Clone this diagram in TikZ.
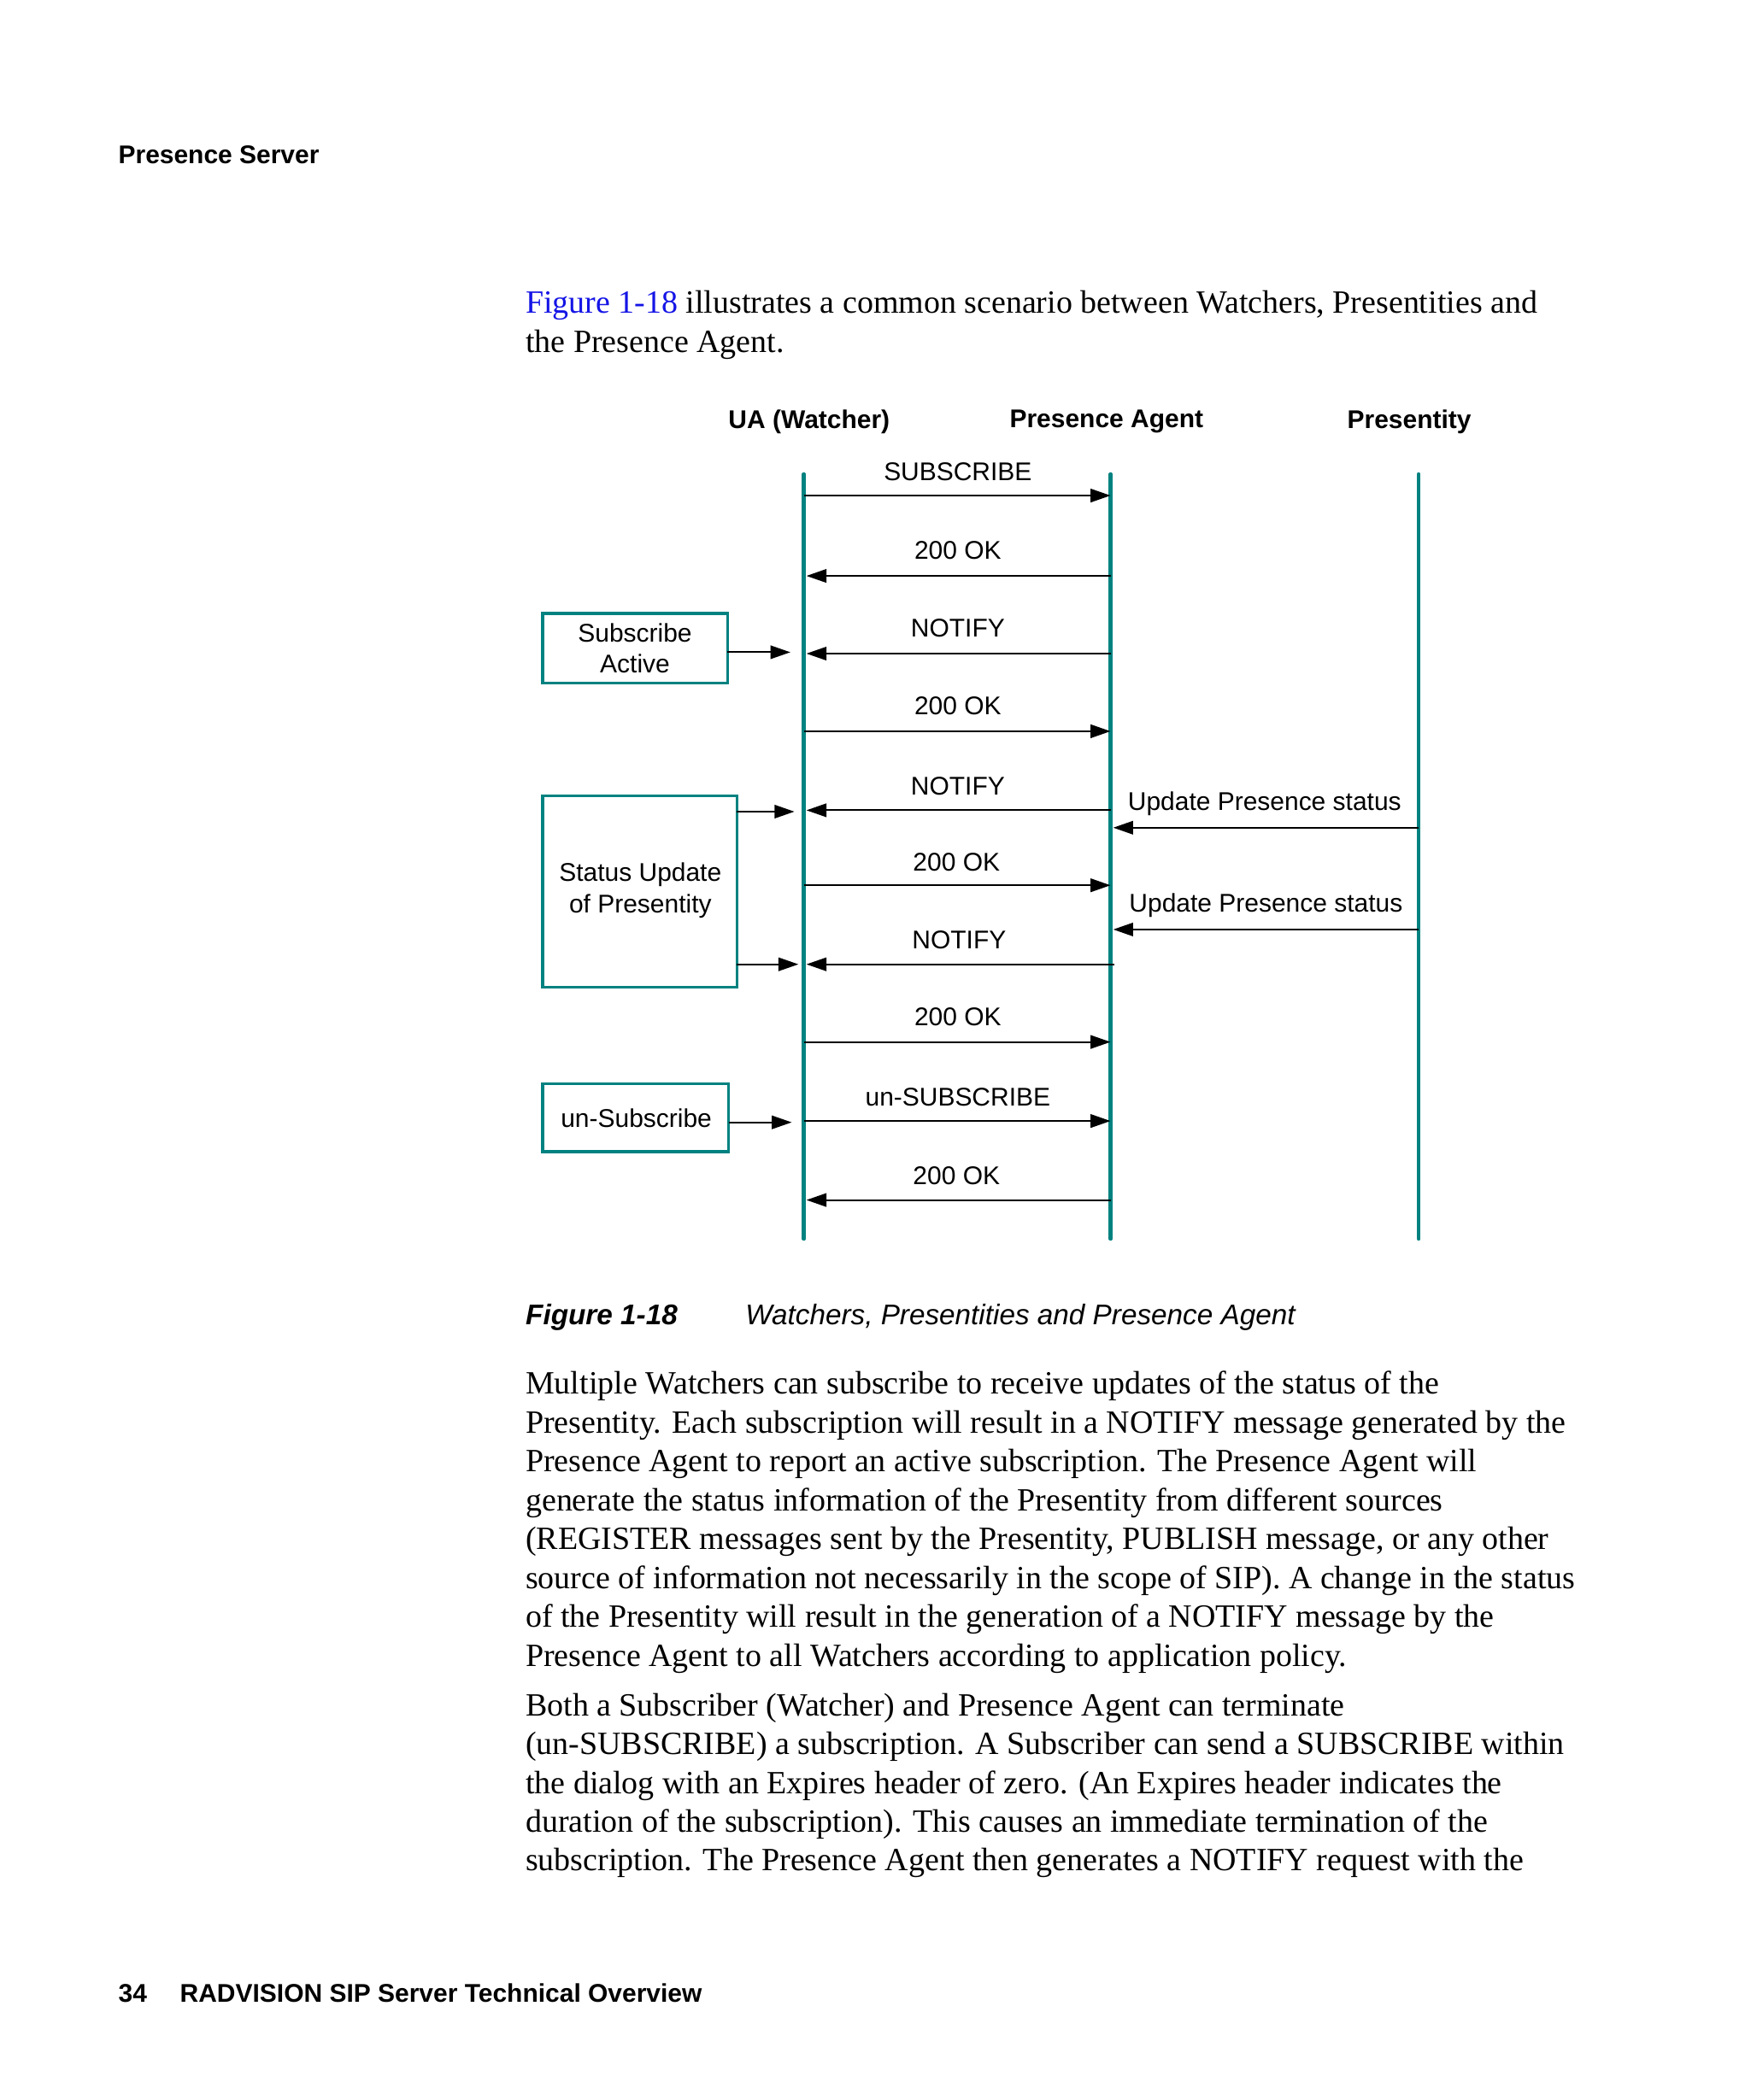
\documentclass[tikz,border=0pt]{standalone}
\usepackage{fontspec}
\setmainfont{Liberation Serif}
\newfontfamily\arial{Liberation Sans}
\usetikzlibrary{arrows.meta}
\definecolor{teal}{RGB}{0,130,128}
\definecolor{linkblue}{RGB}{20,20,230}
\tikzset{
  lifeline/.style={draw=teal,line width=1.3pt,line cap=round},
  msg/.style={draw=black,line width=0.6pt,-{Triangle[length=7pt,width=4.7pt]}},
  lbl/.style={font=\arial\fontsize{9}{11}\selectfont,inner sep=0pt},
  hdr/.style={font=\arial\bfseries\fontsize{9}{11}\selectfont,inner sep=0pt},
  boxline/.style={draw=teal,line width=1pt},
  body/.style={font=\fontsize{11.4}{13.6}\selectfont,inner sep=0pt,anchor=base west},
}
\begin{document}
\begin{tikzpicture}[x=0.4708pt,y=-0.4708pt]
\useasboundingbox[fill=white] (0,0) rectangle (1306.5,1568);

% page header / footer
\node[inner sep=0pt,anchor=base west,font=\arial\bfseries\fontsize{9}{11}\selectfont] (hd) at (88,122) {Presence Server};
\node[inner sep=0pt,anchor=base west,font=\arial\bfseries\fontsize{9}{11}\selectfont] (pg) at (88,1495) {34};
\node[inner sep=0pt,anchor=base west,font=\arial\bfseries\fontsize{9}{11}\selectfont] (ft) at (134,1495) {RADVISION SIP Server Technical Overview};

% intro text
\node[body] (i1) at (392,234) {\textcolor{linkblue}{Figure 1-18} illustrates a common scenario between Watchers, Presentities and};
\node[body] (i2) at (392,263) {the Presence Agent.};

% column headers
\node[hdr] (hua) at (604,315) {UA (Watcher)};
\node[hdr] (hpa) at (826,315) {Presence Agent};
\node[hdr] (hpr) at (1052,315) {Presentity};

% lifelines
\coordinate (uaT) at (600,354); \coordinate (uaB) at (600,925);
\coordinate (paT) at (829,354); \coordinate (paB) at (829,925);
\coordinate (prT) at (1059,354); \coordinate (prB) at (1059,925);
\draw[lifeline] (uaT) -- (uaB);
\draw[lifeline] (paT) -- (paB);
\draw[lifeline] (prT) -- (prB);

% message anchor points
\foreach \n/\y in {1/370,2/430,3/488,4/546,5/605,6/661,7/720,8/778,9/837,10/896}{
  \coordinate (u\n) at (600,\y);
  \coordinate (ul\n) at (602,\y);
  \coordinate (p\n) at (829,\y);
}
\coordinate (p7r) at (832,720);

\draw[msg] (u1) -- (p1);
\draw[msg] (p2) -- (ul2);
\draw[msg] (p3) -- (ul3);
\draw[msg] (u4) -- (p4);
\draw[msg] (p5) -- (ul5);
\draw[msg] (u6) -- (p6);
\draw[msg] (p7r) -- (ul7);
\draw[msg] (u8) -- (p8);
\draw[msg] (u9) -- (p9);
\draw[msg] (p10) -- (ul10);

\node[lbl] (l1) at (715,352) {SUBSCRIBE};
\node[lbl] (l2) at (715,411) {200 OK};
\node[lbl] (l3) at (715,469) {NOTIFY};
\node[lbl] (l4) at (715,527) {200 OK};
\node[lbl] (l5) at (715,587) {NOTIFY};
\node[lbl] (l6) at (714,644) {200 OK};
\node[lbl] (l7) at (716,702) {NOTIFY};
\node[lbl] (l8) at (715,759) {200 OK};
\node[lbl] (l9) at (715,819) {un-SUBSCRIBE};
\node[lbl] (l10) at (714,878) {200 OK};

% presentity updates
\coordinate (r1) at (1059,618); \coordinate (q1) at (831,618);
\coordinate (r2) at (1059,694); \coordinate (q2) at (831,694);
\draw[msg] (r1) -- (q1);
\draw[msg] (r2) -- (q2);
\node[lbl] (lu1) at (944,600) {Update Presence status};
\node[lbl] (lu2) at (945,676) {Update Presence status};

% side boxes
\draw[boxline] (405,458) rectangle (543,510);
\node[lbl,align=center] (sat) at (474,484) {Subscribe\\Active};
\draw[boxline] (405,594) rectangle (550,737);
\node[lbl,align=center] (sut) at (478,665) {Status Update\\of Presentity};
\draw[boxline] (405,809) rectangle (544,860);
\node[lbl] (ust) at (475,835) {un-Subscribe};

\coordinate (saE) at (543,487); \coordinate (saT) at (590,487);
\coordinate (suE1) at (550,606); \coordinate (suT1) at (593,606);
\coordinate (suE2) at (550,720); \coordinate (suT2) at (596,720);
\coordinate (usE) at (544,838); \coordinate (usT) at (591,838);
\draw[msg] (saE) -- (saT);
\draw[msg] (suE1) -- (suT1);
\draw[msg] (suE2) -- (suT2);
\draw[msg] (usE) -- (usT);

% caption
\node[inner sep=0pt,anchor=base west,font=\arial\bfseries\itshape\fontsize{10}{12}\selectfont] (cap1) at (392,989) {Figure 1-18};
\node[inner sep=0pt,anchor=base west,font=\arial\itshape\fontsize{10}{12}\selectfont] (cap2) at (556,989) {Watchers, Presentities and Presence Agent};

% body paragraphs
\node[body] (a1) at (392,1041) {Multiple Watchers can subscribe to receive updates of the status of the};
\node[body] (a2) at (392,1070) {Presentity. Each subscription will result in a NOTIFY message generated by the};
\node[body] (a3) at (392,1099) {Presence Agent to report an active subscription. The Presence Agent will};
\node[body] (a4) at (392,1128) {generate the status information of the Presentity from different sources};
\node[body] (a5) at (392,1157) {(REGISTER messages sent by the Presentity, PUBLISH message, or any other};
\node[body] (a6) at (392,1186) {source of information not necessarily in the scope of SIP). A change in the status};
\node[body] (a7) at (392,1215) {of the Presentity will result in the generation of a NOTIFY message by the};
\node[body] (a8) at (392,1244) {Presence Agent to all Watchers according to application policy.};
\node[body] (b1) at (392,1281) {Both a Subscriber (Watcher) and Presence Agent can terminate};
\node[body] (b2) at (392,1310) {(un-SUBSCRIBE) a subscription. A Subscriber can send a SUBSCRIBE within};
\node[body] (b3) at (392,1339) {the dialog with an Expires header of zero. (An Expires header indicates the};
\node[body] (b4) at (392,1368) {duration of the subscription). This causes an immediate termination of the};
\node[body] (b5) at (392,1397) {subscription. The Presence Agent then generates a NOTIFY request with the};
\end{tikzpicture}
\end{document}
